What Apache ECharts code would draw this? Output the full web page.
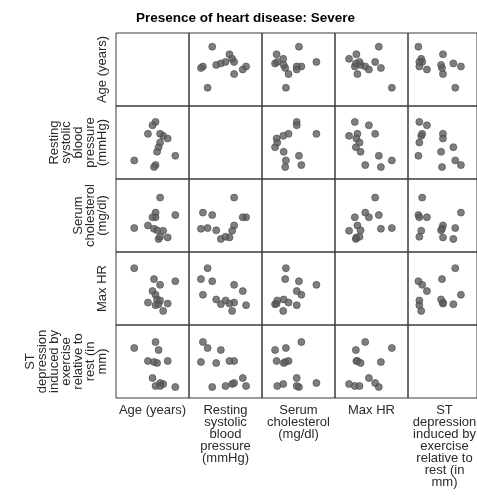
<!DOCTYPE html>
<html>
<head>
<meta charset="utf-8">
<script src="https://cdn.jsdelivr.net/npm/echarts@6/dist/echarts.min.js"></script>
<style>
html, body { margin: 0; padding: 0; background: #fff; }
#chart { width: 477px; height: 497px; }
</style>
</head>
<body>
<div id="chart"></div>
<script>
// Variable names (rows and columns of the scatter-plot matrix)
const variableLabels = [
  'Age (years)',
  'Resting\nsystolic\nblood\npressure\n(mmHg)',
  'Serum\ncholesterol\n(mg/dl)',
  'Max HR',
  'ST\ndepression\ninduced by\nexercise\nrelative to\nrest (in\nmm)'
];
const chartTitle = 'Presence of heart disease: Severe';

// One entry per patient (13 patients, "Severe" group)
const age          = [41, 50, 68, 55, 55, 57, 63, 54, 56, 60, 58, 53, 58];
const restingBP    = [118, 158, 125, 111, 176, 138, 151, 108, 131, 155, 158, 171, 145];
const cholesterol  = [238, 250, 297, 308, 287, 189, 196, 235, 228, 226, 376, 287, 199];
const maxHR        = [169, 103, 144, 118, 98, 100, 101, 148, 109, 87, 137, 125, 107];
const stDepression = [4.0, 2.7, 0.1, 4.6, 0.2, 3.8, 2.7, 2.6, 2.5, 0.4, 0.5, 1.0, 0.2];

// Scale range for each variable
const axisMin = [29, 90, 130, 60, -1];
const axisMax = [77, 200, 460, 200, 6.3];

const vars = [age, restingBP, cholesterol, maxHR, stDepression];
const n = vars.length;
const cellLeft = 116, cellTop = 33, cellSize = 73;
const font13 = '13px "Liberation Sans", Arial, Helvetica, sans-serif';

const grids = [], xAxes = [], yAxes = [], series = [], graphics = [];
let idx = 0;
for (let r = 0; r < n; r++) {
  for (let c = 0; c < n; c++) {
    grids.push({
      left: cellLeft + c * cellSize,
      top: cellTop + r * cellSize,
      width: cellSize,
      height: cellSize,
      show: true,
      borderColor: '#3a3a3a',
      borderWidth: 1,
      backgroundColor: 'transparent'
    });
    xAxes.push({ gridIndex: idx, type: 'value', min: axisMin[c], max: axisMax[c], show: false });
    yAxes.push({ gridIndex: idx, type: 'value', min: axisMin[r], max: axisMax[r], show: false });
    if (r !== c) {
      series.push({
        type: 'scatter',
        xAxisIndex: idx,
        yAxisIndex: idx,
        symbol: 'circle',
        symbolSize: 7,
        silent: true,
        itemStyle: { color: '#5e5e5e', borderColor: '#4a4a4a', borderWidth: 0.8 },
        data: vars[c].map((v, k) => [v, vars[r][k]])
      });
    }
    idx++;
  }
}

// Title
graphics.push({
  type: 'text', x: 136, y: 11,
  style: { text: chartTitle, font: 'bold 13.5px "Liberation Sans", Arial, Helvetica, sans-serif',
           fill: '#000', textAlign: 'left', textVerticalAlign: 'top' }
});
// Row labels (rotated, left side)
for (let r = 0; r < n; r++) {
  graphics.push({
    type: 'text', x: 108, y: cellTop + r * cellSize + cellSize / 2, rotation: Math.PI / 2,
    style: { text: variableLabels[r], font: font13, lineHeight: 12, fill: '#2a2a2a',
             textAlign: 'center', textVerticalAlign: 'bottom' }
  });
}
// Column labels (bottom)
for (let c = 0; c < n; c++) {
  graphics.push({
    type: 'text', x: cellLeft + c * cellSize + cellSize / 2, y: cellTop + n * cellSize + 6,
    style: { text: variableLabels[c], font: font13, lineHeight: 12, fill: '#2a2a2a',
             textAlign: 'center', textVerticalAlign: 'top' }
  });
}

const chart = echarts.init(document.getElementById('chart'), null, { renderer: 'canvas' });
chart.setOption({
  animation: false,
  backgroundColor: '#fff',
  grid: grids,
  xAxis: xAxes,
  yAxis: yAxes,
  series: series,
  graphic: graphics
});
</script>
</body>
</html>
